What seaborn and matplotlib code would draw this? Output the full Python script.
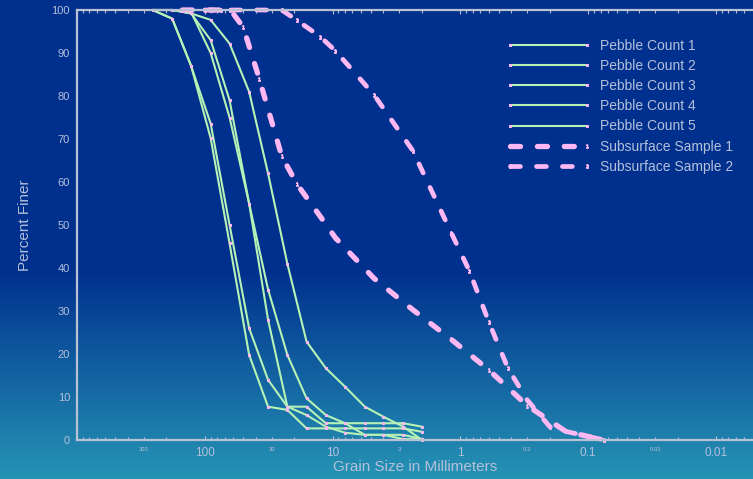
import numpy as np
import pandas as pd
import matplotlib
matplotlib.use("Agg")
import matplotlib.pyplot as plt
import seaborn as sns
from matplotlib.ticker import FixedLocator, FuncFormatter

sns.set_theme(style="white")
plt.rcParams['font.family'] = ['Liberation Sans', 'DejaVu Sans']

# ---------------- data ----------------
pebble_sizes = [256, 180, 128, 90, 64, 45, 32, 22.6, 16, 11.3, 8, 5.6, 4, 2.8, 2]
pebble_1 = [100, 98, 87, 73.6, 50, 26, 14, 7.75, 7.75, 3.9, 3.9, 3.9, 3.9, 3.9, 3.1]
pebble_2 = [100, 98, 87, 70.2, 45.7, 19.8, 7.75, 7.0, 2.7, 2.7, 2.7, 2.7, 2.7, 2.7, 1.9]
pebble_3 = [100, 100, 99.2, 93, 79, 55, 35, 19.8, 9.7, 5.8, 3.9, 1.2, 1.2, 1.2, 0.2]
pebble_4 = [100, 100, 99.5, 90, 75, 55, 28, 7.75, 5.8, 3.1, 1.7, 1.2, 1.2, 0.2, 0.2]
pebble_5 = [100, 100, 99.2, 97.7, 92.2, 81, 62, 41, 22.9, 16.7, 12.4, 7.75, 5.4, 3.1, 0]

sub1_sizes = [150, 75, 63, 50, 37.5, 25, 19, 12.5, 9.5, 4.75, 2.36, 1.18, 0.6, 0.3, 0.15, 0.075]
sub1_pct = [100, 100, 100, 96, 84, 66, 59.5, 52, 47, 37.6, 30.3, 23.4, 16.3, 8.0, 2.0, 0]

sub2_sizes = [100, 25, 19, 12.5, 9.5, 4.75, 2.36, 1.18, 0.85, 0.6, 0.425, 0.3, 0.2, 0.15, 0.075]
sub2_pct = [100, 100, 97.6, 93.8, 90.5, 80.3, 67.3, 48.2, 39.3, 27.5, 16.7, 9.3, 3.1, 2.0, 0]

pebble_labels = ["Pebble Count 1", "Pebble Count 2", "Pebble Count 3",
                 "Pebble Count 4", "Pebble Count 5"]
sub_labels = ["Subsurface Sample 1", "Subsurface Sample 2"]

major_ticks = [100, 10, 1, 0.1, 0.01]
major_labels = ["100", "10", "1", "0.1", "0.01"]
minor_label_vals = [300, 30, 3, 0.3, 0.03]
minor_label_text = ["300", "30", "3", "0.3", "0.03"]

# ---------------- style ----------------
GREEN = "#B6F2B6"
PINK = "#FFB8F2"
TXT = "#B4C0DA"
SPINE = "#B8C2D4"

W, H = 753, 479
fig = plt.figure(figsize=(W / 100, H / 100), dpi=100)

# background gradient
bg = fig.add_axes([0, 0, 1, 1], zorder=-10)
rows = np.arange(H)
top_c = np.array([0x00, 0x30, 0x8E]) / 255
bot_c = np.array([0x26, 0x94, 0xB4]) / 255
t = np.clip((rows - 270) / (H - 270), 0, 1)
grad = top_c[None, :] * (1 - t[:, None]) + bot_c[None, :] * t[:, None]
img = np.repeat(grad[:, None, :], 4, axis=1)
bg.imshow(img, aspect="auto", extent=[0, 1, 0, 1], origin="upper")
bg.axis("off")

ax = fig.add_axes([77 / W, 39 / H, 677.5 / W, 430 / H])
ax.patch.set_alpha(0)

for lab, vals in zip(pebble_labels, [pebble_1, pebble_2, pebble_3, pebble_4, pebble_5]):
    sns.lineplot(x=pebble_sizes, y=vals, ax=ax, sort=False, estimator=None,
                 color=GREEN, lw=1.5, marker="s", markersize=1.6,
                 markerfacecolor=PINK, markeredgecolor=PINK, label=lab, clip_on=False)

sns.lineplot(x=sub1_sizes, y=sub1_pct, ax=ax, sort=False, estimator=None,
             color=PINK, lw=3.8, dashes=(1.9, 3.2), dash_capstyle="round",
             marker="$1$", markersize=2.4,
             markerfacecolor=PINK, markeredgecolor=PINK, label=sub_labels[0], clip_on=False)
sns.lineplot(x=sub2_sizes, y=sub2_pct, ax=ax, sort=False, estimator=None,
             color=PINK, lw=3.4, dashes=(2.1, 3.4), dash_capstyle="round",
             marker="$2$", markersize=2.4,
             markerfacecolor=PINK, markeredgecolor=PINK, label=sub_labels[1], clip_on=False)

ax.set_xscale("log")
ax.set_xlim(1000, 0.005)
ax.set_ylim(0, 100)

ax.xaxis.set_major_locator(FixedLocator(major_ticks))
ax.xaxis.set_major_formatter(FuncFormatter(
    lambda v, p: next((l for m, l in zip(major_ticks, major_labels) if np.isclose(v, m)), "")))
minors = [m * 10.0 ** e for e in range(-3, 3) for m in range(2, 10)]
minors = [v for v in minors if 0.005 <= v <= 1000]
ax.xaxis.set_minor_locator(FixedLocator(minors))
ax.xaxis.set_minor_formatter(FuncFormatter(
    lambda v, p: next((l for m, l in zip(minor_label_vals, minor_label_text) if np.isclose(v, m)), "")))

ax.set_yticks(range(0, 101, 10))
ax.tick_params(axis="x", which="both", direction="in", top=True, bottom=True,
               color=SPINE, labelcolor=TXT, width=0.8)
ax.tick_params(axis="x", which="major", length=3, labelsize=8.5, pad=5)
ax.tick_params(axis="x", which="minor", length=2.5, labelsize=4.2, pad=5)
ax.tick_params(axis="y", length=0, labelsize=8, labelcolor=TXT, pad=5)

for s in ["left", "bottom", "top"]:
    ax.spines[s].set_color(SPINE)
    ax.spines[s].set_linewidth(1.6)
ax.spines["right"].set_visible(False)
ax.set_xlabel("")
ax.set_ylabel("")

fig.text(415 / W, 1 - 467 / H, "Grain Size in Millimeters", ha="center", va="center",
         fontsize=11, color=TXT)
fig.text(25 / W, 1 - 225 / H, "Percent Finer", ha="center", va="center",
         rotation=90, fontsize=11, color=TXT)

leg = ax.legend(loc="upper left", bbox_to_anchor=(493 / W, 1 - 26 / H),
                bbox_transform=fig.transFigure, frameon=False, fontsize=10,
                handlelength=6.2, handletextpad=0.6, labelspacing=0.45,
                numpoints=2, labelcolor=TXT)

fig.savefig("out.png", dpi=100)
